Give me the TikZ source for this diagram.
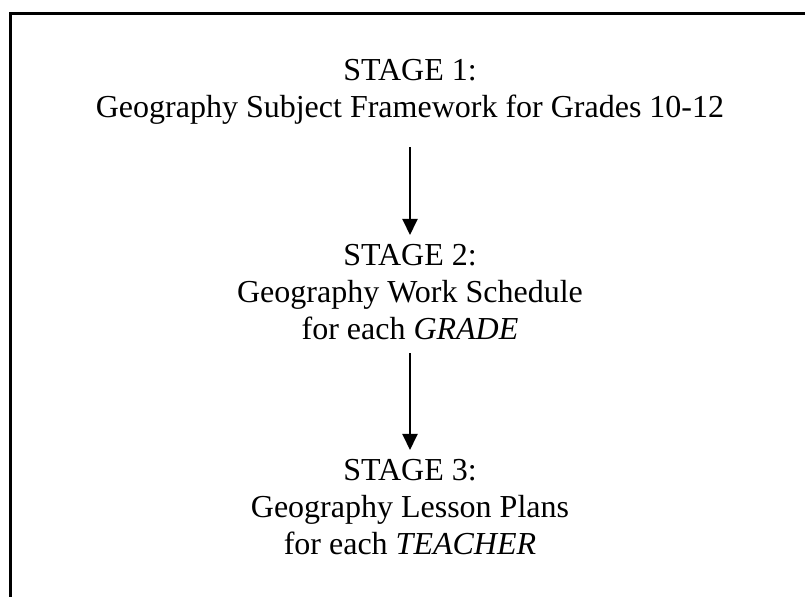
\documentclass[tikz,border=0pt]{standalone}
\usepackage{fontspec}
\setmainfont{Liberation Serif}
\usetikzlibrary{arrows.meta}
\tikzset{
  stagetext/.style={align=center, inner sep=0pt, anchor=north,
    font=\fontsize{16}{18.5}\selectfont},
  flow/.style={line width=1pt, -{Triangle[width=7.5pt,length=8pt]}},
  frame/.style={line width=1.5pt}
}
\begin{document}
\begin{tikzpicture}[x=0.5pt,y=-0.5pt]
  \useasboundingbox (0,0) rectangle (805,597);
  % open frame: top and left edges only
  \draw[frame] (10,597) -- (10,13.5) -- (805,13.5);

  \node[stagetext] (s1) at (410,58.5) {STAGE 1:\\Geography Subject Framework for Grades 10-12};
  \node[stagetext] (s2) at (410,244) {STAGE 2:\\Geography Work Schedule\\for each \textit{GRADE}};
  \node[stagetext] (s3) at (410,459) {STAGE 3:\\Geography Lesson Plans\\for each \textit{TEACHER}};

  \draw[flow, shorten <=11.5pt, shorten >=4.5pt] (s1.south) -- (s2.north);
  \draw[flow, shorten <=6.5pt, shorten >=4.5pt] (s2.south) -- (s3.north);
\end{tikzpicture}
\end{document}
